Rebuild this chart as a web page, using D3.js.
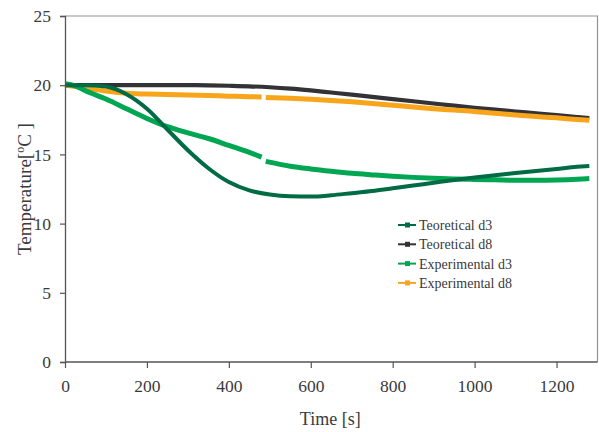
<!DOCTYPE html>
<html>
<head>
<meta charset="utf-8">
<script src="https://cdn.jsdelivr.net/npm/d3@7"></script>
<style>
  html, body { margin: 0; padding: 0; background: #fff; }
  svg { display: block; }
  text { font-family: "Liberation Serif", "Times New Roman", serif; fill: #3a3a3a; }
</style>
</head>
<body>
<svg id="chart" width="599" height="432"></svg>
<script>
// Time samples (s)
const timeTheory = [0, 50, 100, 150, 200, 250, 300, 350, 400, 450, 500, 550, 600, 650, 700,
  750, 800, 850, 900, 950, 1000, 1050, 1100, 1150, 1200, 1250, 1280];
const timeExp = [0, 25, 50, 100, 150, 200, 250, 300, 350, 400, 450, 480, 485, 490, 550, 600, 650, 700,
  750, 800, 850, 900, 950, 1000, 1050, 1100, 1150, 1200, 1250, 1280];

// Temperatures (°C)
const theoryD3 = [20.0, 20.0, 19.9, 19.35, 18.3, 16.8, 15.3, 14.0, 13.0, 12.4, 12.1, 11.97, 11.95,
  12.05, 12.2, 12.35, 12.55, 12.75, 12.95, 13.15, 13.33, 13.5, 13.65, 13.8, 13.95, 14.1, 14.17];
const theoryD8 = [20.0, 20.0, 20.0, 20.0, 20.0, 20.0, 20.0, 19.99, 19.96, 19.92, 19.85, 19.75, 19.62,
  19.47, 19.32, 19.16, 19.0, 18.84, 18.68, 18.52, 18.37, 18.23, 18.1, 17.97, 17.84, 17.7, 17.62];
const expD3 = [20.1, 19.95, 19.6, 19.0, 18.3, 17.6, 17.0, 16.55, 16.15, 15.65, 15.15, 14.8, null, 14.5,
  14.15, 13.95, 13.78, 13.63, 13.52, 13.42, 13.34, 13.28, 13.23, 13.19, 13.16, 13.13, 13.13, 13.15, 13.2, 13.25];
const expD8 = [20.0, 19.9, 19.8, 19.58, 19.42, 19.36, 19.32, 19.29, 19.25, 19.21, 19.17, 19.15, null, 19.12,
  19.05, 18.98, 18.9, 18.8, 18.68, 18.55, 18.42, 18.3, 18.2, 18.1, 17.97, 17.85, 17.74, 17.64, 17.52, 17.46];

const seriesNames = ["Teoretical d3", "Teoretical d8", "Experimental d3", "Experimental d8"];
const seriesColors = ["#006b45", "#333337", "#00a651", "#f8a51b"];

const xTicks = [0, 200, 400, 600, 800, 1000, 1200];
const yTicks = [0, 5, 10, 15, 20, 25];

const svg = d3.select("#chart");
const mLeft = 65, mRight = 597.5, mTop = 16, mBottom = 362;

const x = d3.scaleLinear().domain([0, 1300]).range([mLeft, mRight]);
const y = d3.scaleLinear().domain([0, 25]).range([mBottom, mTop]);

// Plot frame: top and right edges
svg.append("path")
  .attr("d", `M${mLeft},${mTop}H${mRight}V${mBottom}`)
  .attr("fill", "none")
  .attr("stroke", "#9c908c")
  .attr("stroke-width", 1.2);

// Series
const series = [
  { t: timeTheory, v: theoryD3, w: 4 },
  { t: timeTheory, v: theoryD8, w: 4.2 },
  { t: timeExp, v: expD3, w: 5 },
  { t: timeExp, v: expD8, w: 5 }
];
const drawOrder = [1, 3, 2, 0];

const line = d3.line()
  .defined(d => d[1] !== null)
  .x(d => x(d[0]))
  .y(d => y(d[1]))
  .curve(d3.curveMonotoneX);

drawOrder.forEach(i => {
  const s = series[i];
  const pts = s.t.map((t, k) => [t, s.v[k]]);
  svg.append("path")
    .datum(pts)
    .attr("d", line)
    .attr("fill", "none")
    .attr("stroke", seriesColors[i])
    .attr("stroke-width", s.w)
    .attr("stroke-linecap", "butt");
});

// Axes
const xAxis = d3.axisBottom(x).tickValues(xTicks).tickSize(6).tickPadding(12).tickFormat(d3.format("d"));
const yAxis = d3.axisLeft(y).tickValues(yTicks).tickSize(5).tickPadding(9).tickFormat(d3.format("d"));

const gx = svg.append("g").attr("transform", `translate(0,${mBottom})`).call(xAxis);
const gy = svg.append("g").attr("transform", `translate(${mLeft},0)`).call(yAxis);

[gx, gy].forEach(g => {
  g.select(".domain").attr("stroke", "#555").attr("stroke-width", 1.3);
  g.selectAll(".tick line").attr("stroke", "#555").attr("stroke-width", 1.2);
  g.selectAll(".tick text")
    .attr("font-family", "Liberation Serif, serif")
    .attr("font-size", 17.5)
    .attr("fill", "#3a3a3a");
});
gx.select(".domain").attr("d", `M${mLeft},0H${mRight}`);

// Axis titles
svg.append("text")
  .attr("x", (mLeft + mRight) / 2 - 1)
  .attr("y", 425)
  .attr("text-anchor", "middle")
  .attr("font-size", 18)
  .text("Time [s]");

const yTitle = svg.append("text")
  .attr("transform", `translate(31,189) rotate(-90)`)
  .attr("text-anchor", "middle")
  .attr("font-size", 19);
yTitle.append("tspan").text("Temperature[");
yTitle.append("tspan").attr("dy", -7).attr("font-size", 12).text("o");
yTitle.append("tspan").attr("dy", 7).text("C ]");

// Legend
const legend = svg.append("g");
seriesNames.forEach((name, i) => {
  const ly = 225 + i * 19.3;
  const g = legend.append("g").attr("transform", `translate(398,${ly})`);
  g.append("line").attr("x1", 0).attr("x2", 18).attr("y1", 0).attr("y2", 0)
    .attr("stroke", seriesColors[i]).attr("stroke-width", 2);
  g.append("rect").attr("x", 7).attr("y", -2.5).attr("width", 5).attr("height", 5)
    .attr("fill", seriesColors[i]);
  g.append("text").attr("x", 21).attr("y", 5).attr("font-size", 14).text(name);
});
</script>
</body>
</html>
